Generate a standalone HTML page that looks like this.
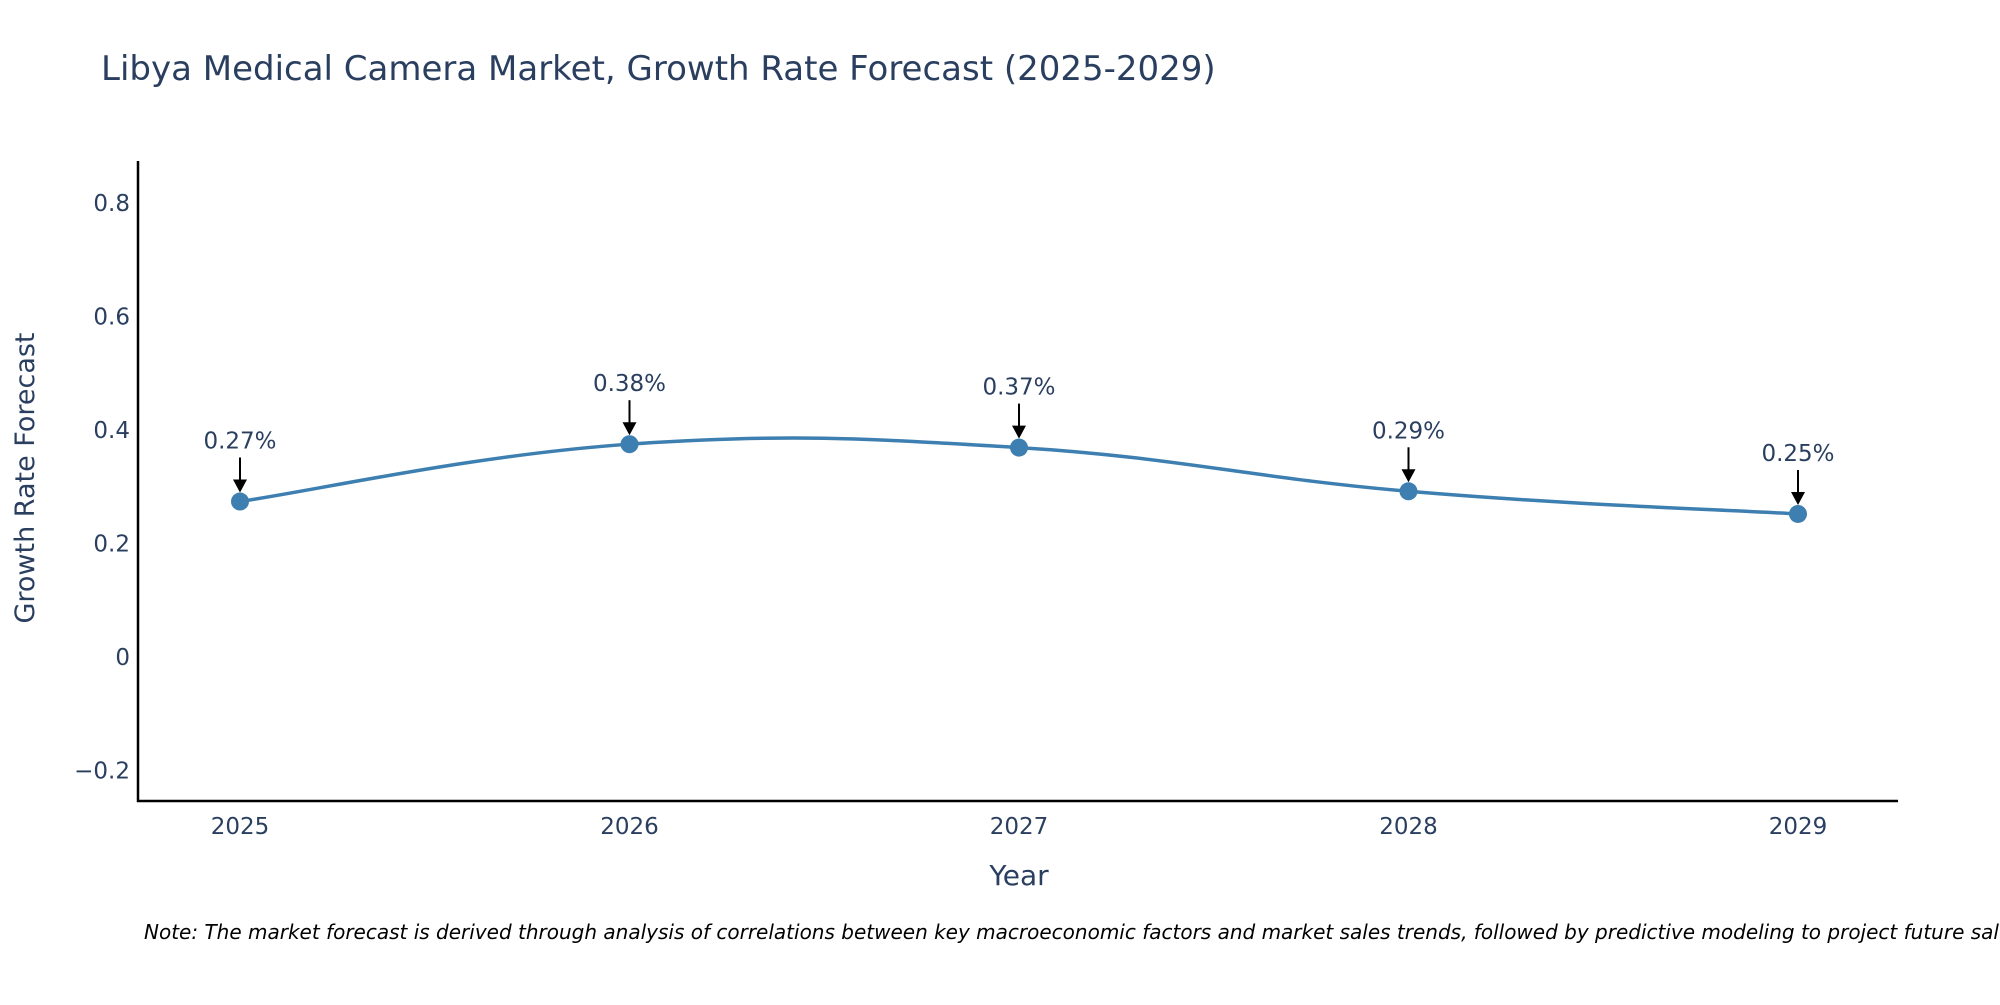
<!DOCTYPE html>
<html><head><meta charset="utf-8"><style>
body{margin:0;background:#fff;}
svg text{font-family:"DejaVu Sans","Liberation Sans",sans-serif;fill:#2a3f5f;}
</style></head><body>
<svg width="2000" height="1000" xmlns="http://www.w3.org/2000/svg">
<text x="101" y="80" font-size="34">Libya Medical Camera Market, Growth Rate Forecast (2025-2029)</text>
<g id="yt"></g><g id="xt"></g>
<line x1="138" y1="161" x2="138" y2="802" stroke="#000" stroke-width="2.5"/>
<line x1="137" y1="801" x2="1898" y2="801" stroke="#000" stroke-width="2.5"/>
<path id="line" fill="none" stroke="#3d7fb0" stroke-width="3.5"/>
<g id="marks"></g>
<text x="34" y="478" font-size="27" text-anchor="middle" transform="rotate(-90 34 478)">Growth Rate Forecast</text>
<text x="1019" y="885" font-size="28" text-anchor="middle">Year</text>
<text x="144" y="939" font-size="20" font-style="italic" style="fill:#000">Note: The market forecast is derived through analysis of correlations between key macroeconomic factors and market sales trends, followed by predictive modeling to project future sales.</text>
</svg>
<script>
const years=[2025,2026,2027,2028,2029];
const values=[0.274,0.375,0.369,0.292,0.252];
const labels=["0.27%","0.38%","0.37%","0.29%","0.25%"];
const yTicks=[-0.2,0,0.2,0.4,0.6,0.8];
const yTickLabels=["\u22120.2","0","0.2","0.4","0.6","0.8"];
const NS="http://www.w3.org/2000/svg";
const xs=y=>240+(y-2025)*389.5;
const ys=v=>657-v/0.2*113.5;
function mk(t,a,p){const e=document.createElementNS(NS,t);for(const k in a)e.setAttribute(k,a[k]);p.appendChild(e);return e;}
const yt=document.getElementById('yt');
yTicks.forEach((v,i)=>{const t=mk('text',{x:130,y:ys(v)+8,'font-size':23,'text-anchor':'end'},yt);t.textContent=yTickLabels[i];

});
const xt=document.getElementById('xt');
years.forEach(y=>{const t=mk('text',{x:xs(y),y:834,'font-size':23,'text-anchor':'middle'},xt);t.textContent=y;

});
const P=years.map((y,i)=>[xs(y),ys(values[i])]);
let d=`M${P[0][0]},${P[0][1]}`;const s=0.2;
for(let i=0;i<P.length-1;i++){const p0=P[Math.max(i-1,0)],p1=P[i],p2=P[i+1],p3=P[Math.min(i+2,P.length-1)];
d+=` C${p1[0]+(p2[0]-p0[0])*s},${p1[1]+(p2[1]-p0[1])*s} ${p2[0]-(p3[0]-p1[0])*s},${p2[1]-(p3[1]-p1[1])*s} ${p2[0]},${p2[1]}`;}
document.getElementById('line').setAttribute('d',d);
const g=document.getElementById('marks');
P.forEach((p,i)=>{
const c=mk('circle',{cx:p[0],cy:p[1],r:9,fill:'#3d7fb0'},g);


const l=mk('line',{x1:p[0],y1:p[1]-44,x2:p[0],y2:p[1]-20,stroke:'#000','stroke-width':2},g);


const a=mk('path',{d:`M${p[0]-7},${p[1]-22} L${p[0]+7},${p[1]-22} L${p[0]},${p[1]-9} Z`,fill:'#000'},g);


const t=mk('text',{x:p[0],y:p[1]-53,'font-size':23,'text-anchor':'middle'},g);t.textContent=labels[i];


});
</script>
</body></html>
